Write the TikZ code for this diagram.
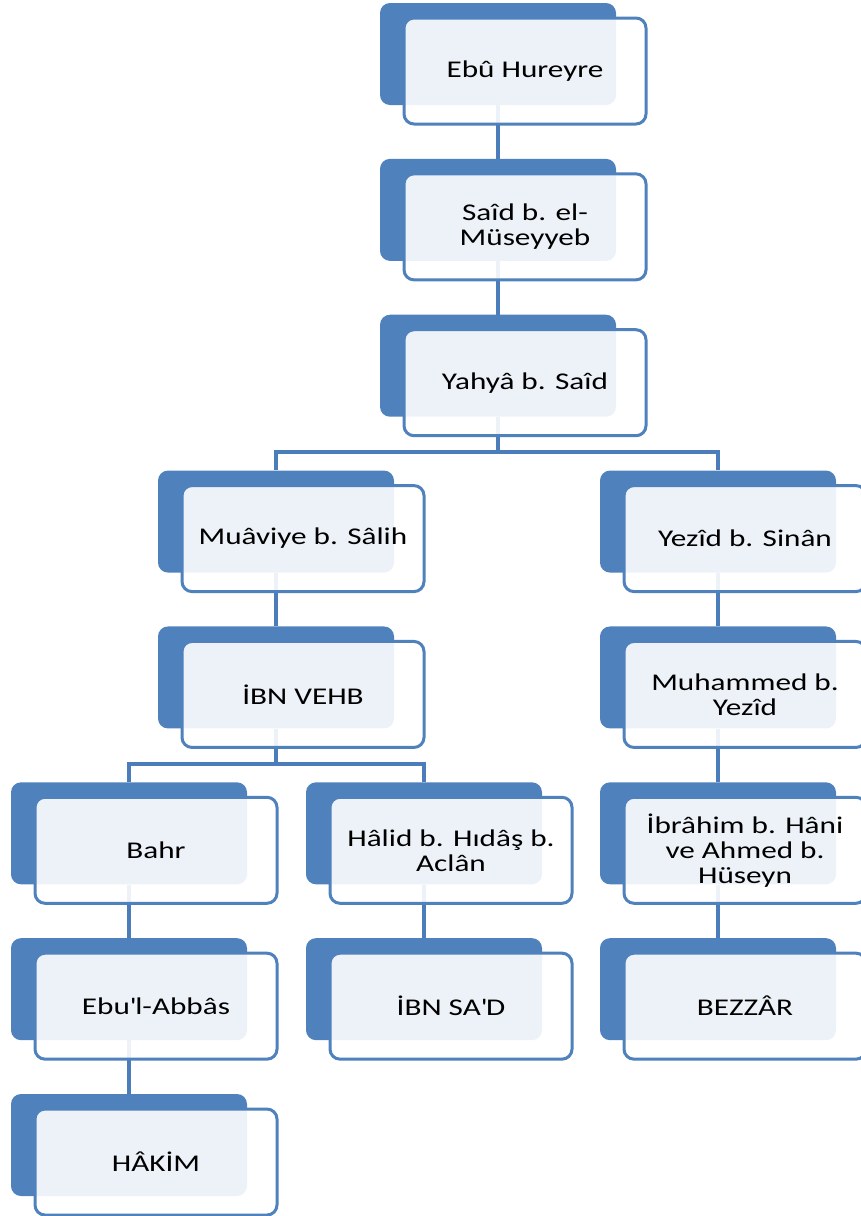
\documentclass[tikz,border=0pt]{standalone}
\usepackage{fontspec}
\setmainfont{Carlito}[FakeStretch=1.3]
\usetikzlibrary{positioning}
\definecolor{isnadblue}{HTML}{4F81BD}
\definecolor{linkblue}{HTML}{4A7DBA}
\pgfdeclarelayer{bg}
\pgfsetlayers{bg,main}

\begin{document}
\begin{tikzpicture}[x=1pt,y=1pt,node distance=155.86pt,on grid,
   back/.style={fill=isnadblue,rounded corners=10pt,minimum width=236pt,minimum height=102pt,inner sep=0pt},
   front/.style={draw=isnadblue,line width=3pt,fill=white,fill opacity=0.9,text opacity=1,
     rounded corners=10pt,minimum width=242pt,minimum height=106pt,inner sep=0pt,
     align=center,text=black,font=\fontsize{24}{25}\selectfont},
   link/.style={draw=linkblue,line width=4pt}]
   \useasboundingbox (0,0) rectangle (860,-1216);
   % chain in the middle
   \node[back] (hureyre) at (498,-54) {};
   \node[front] (hureyre-t) [below right=17pt and 27pt of hureyre] {Ebû Hureyre};
   \node[back] (musayyeb) [below=of hureyre] {};
   \node[front] (musayyeb-t) [below right=17pt and 27pt of musayyeb] {Saîd b. el-\\Müseyyeb};
   \node[back] (yahya) [below=of musayyeb] {};
   \node[front] (yahya-t) [below right=17pt and 27pt of yahya] {Yahyâ b. Saîd};
   % left branch
   \node[back] (muaviye) [below left=155.86pt and 222pt of yahya] {};
   \node[front] (muaviye-t) [below right=17pt and 27pt of muaviye] {Muâviye b. Sâlih};
   \node[back] (vehb) [below=of muaviye] {};
   \node[front] (vehb-t) [below right=17pt and 27pt of vehb] {İBN VEHB};
   \node[back] (bahr) [below left=155.86pt and 147pt of vehb] {};
   \node[front] (bahr-t) [below right=17pt and 27pt of bahr] {Bahr};
   \node[back] (abbas) [below=of bahr] {};
   \node[front] (abbas-t) [below right=17pt and 27pt of abbas] {Ebu\textquotesingle l-Abbâs};
   \node[back] (hakim) [below=of abbas] {};
   \node[front] (hakim-t) [below right=17pt and 27pt of hakim] {HÂKİM};
   \node[back] (halid) [below right=155.86pt and 148pt of vehb] {};
   \node[front] (halid-t) [below right=17pt and 27pt of halid] {Hâlid b. Hıdâş b.\\Aclân};
   \node[back] (ibnsad) [below=of halid] {};
   \node[front] (ibnsad-t) [below right=17pt and 27pt of ibnsad] {İBN SA\textquotesingle D};
   % right branch
   \node[back] (yezid) [below right=155.86pt and 220pt of yahya] {};
   \node[front] (yezid-t) [below right=17pt and 27pt of yezid] {Yezîd b. Sinân};
   \node[back] (muhammed) [below=of yezid] {};
   \node[front] (muhammed-t) [below right=17pt and 27pt of muhammed] {Muhammed b.\\Yezîd};
   \node[back] (ibrahim) [below=of muhammed] {};
   \node[front] (ibrahim-t) [below right=17pt and 27pt of ibrahim] {İbrâhim b. Hâni\\ve Ahmed b.\\Hüseyn};
   \node[back] (bezzar) [below=of ibrahim] {};
   \node[front] (bezzar-t) [below right=17pt and 27pt of bezzar] {BEZZÂR};

   \begin{pgfonlayer}{bg}
   \path[link] (hureyre.south) -- (musayyeb.north)
               (musayyeb.south) -- (yahya.north)
               (yahya.south) -- ++(0,-35) -| (muaviye.north)
               (yahya.south) -- ++(0,-35) -| (yezid.north)
               (muaviye.south) -- (vehb.north)
               (vehb.south) -- ++(0,-35) -| (bahr.north)
               (vehb.south) -- ++(0,-35) -| (halid.north)
               (bahr.south) -- (abbas.north)
               (abbas.south) -- (hakim.north)
               (halid.south) -- (ibnsad.north)
               (yezid.south) -- (muhammed.north)
               (muhammed.south) -- (ibrahim.north)
               (ibrahim.south) -- (bezzar.north);
   \end{pgfonlayer}
\end{tikzpicture}
\end{document}
